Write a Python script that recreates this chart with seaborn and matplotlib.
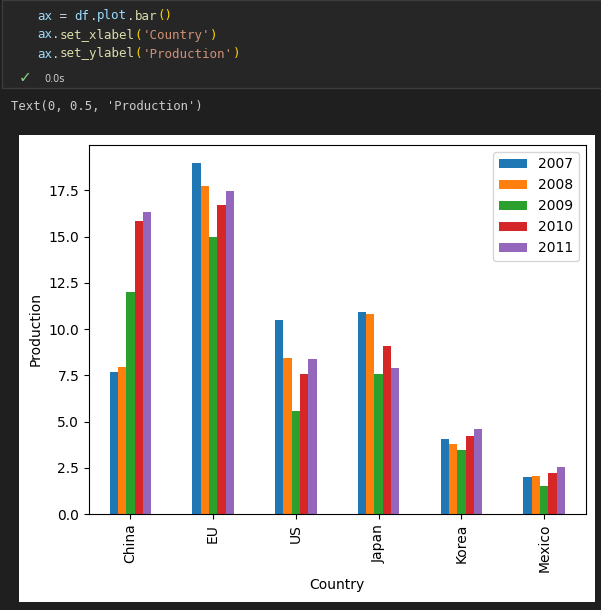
import matplotlib.pyplot as plt
from matplotlib.patches import Rectangle
import numpy as np
import pandas as pd
import seaborn as sns

# values
countries = ['China', 'EU', 'US', 'Japan', 'Korea', 'Mexico']
years = ['2007', '2008', '2009', '2010', '2011']
prod_2007 = [7.7, 19.0, 10.5, 10.9, 4.06, 2.0]
prod_2008 = [7.95, 17.75, 8.45, 10.82, 3.8, 2.06]
prod_2009 = [12.0, 15.0, 5.57, 7.58, 3.46, 1.52]
prod_2010 = [15.85, 16.72, 7.58, 9.09, 4.22, 2.22]
prod_2011 = [16.35, 17.48, 8.4, 7.9, 4.6, 2.55]

code_lines = [
    [('ax', '#9cdcfe'), (' = ', '#d4d4d4'), ('df', '#9cdcfe'), ('.', '#d4d4d4'),
     ('plot', '#9cdcfe'), ('.', '#d4d4d4'), ('bar', '#dcdcaa'), ('()', '#ffd700')],
    [('ax', '#9cdcfe'), ('.', '#d4d4d4'), ('set_xlabel', '#dcdcaa'), ('(', '#ffd700'),
     ("'Country'", '#ce9178'), (')', '#ffd700')],
    [('ax', '#9cdcfe'), ('.', '#d4d4d4'), ('set_ylabel', '#dcdcaa'), ('(', '#ffd700'),
     ("'Production'", '#ce9178'), (')', '#ffd700')],
]
output_text = "Text(0, 0.5, 'Production')"

W, H = 601, 610

df = pd.DataFrame({'Country': countries, '2007': prod_2007, '2008': prod_2008,
                   '2009': prod_2009, '2010': prod_2010, '2011': prod_2011})
long = df.melt(id_vars='Country', var_name='year', value_name='Production')

fig = plt.figure(figsize=(W / 100, H / 100), dpi=100, facecolor='#1f1f1f')

# notebook cell + output background
fig.patches.append(Rectangle((2 / W, 1 - 88 / H), 1, 88 / H, transform=fig.transFigure,
                             facecolor='#262626', edgecolor='#3c3c3c', lw=1, zorder=-2))
fig.patches.append(Rectangle((19 / W, 8 / H), 576 / W, 467 / H, transform=fig.transFigure,
                             facecolor='white', edgecolor='none', zorder=-1))

# code text
fs = 9
cw = 0.602 * fs * 100 / 72
for i, segs in enumerate(code_lines):
    x = 37
    y = 16 + i * 19
    for s, c in segs:
        fig.text(x / W, 1 - y / H, s, color=c, fontsize=fs, family='DejaVu Sans Mono', va='center')
        x += len(s) * cw
fig.text(19 / W, 1 - 78 / H, '✓', color='#89d185', fontsize=11, va='center')
fig.text(44 / W, 1 - 79 / H, '0.0s', color='#cccccc', fontsize=7, va='center')
fig.text(11 / W, 1 - 107 / H, output_text, color='#cccccc', fontsize=8.8,
         family='DejaVu Sans Mono', va='center')

ax = fig.add_axes([89 / W, 96 / H, 496.5 / W, 369 / H])
sns.barplot(data=long, x='Country', y='Production', hue='year', hue_order=years,
            palette='tab10', saturation=1, width=0.5, gap=0, linewidth=0, ax=ax)
ax.set_xlim(-0.5, 5.5)
ax.set_ylim(0, 19.95)
ax.tick_params(axis='x', labelrotation=90)
ax.set_xlabel('Country')
ax.set_ylabel('Production')
handles, labels = ax.get_legend_handles_labels()
ax.legend(handles, labels, loc='upper right')

fig.savefig('out.png', dpi=100, facecolor=fig.get_facecolor())
